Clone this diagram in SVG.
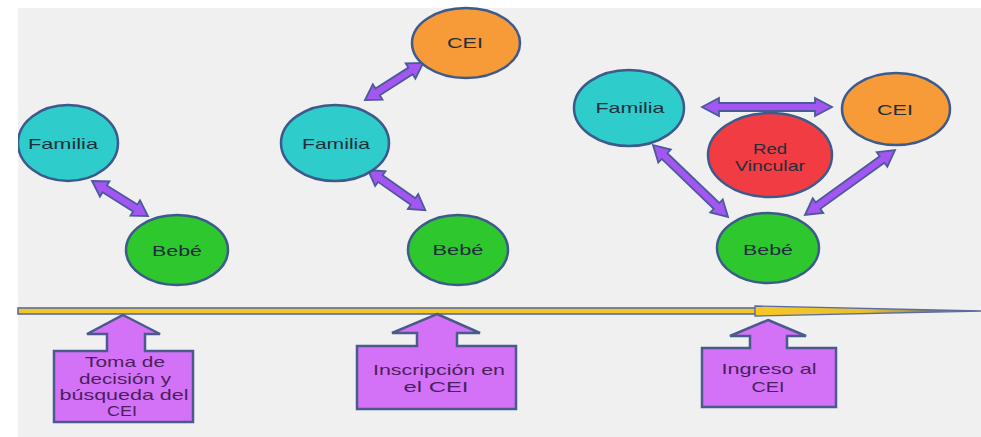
<svg xmlns="http://www.w3.org/2000/svg" width="981" height="437" viewBox="0 0 981 437">
<defs>
<style>
.nd{stroke:#3d5a8c;stroke-width:2.5}
.fam{fill:#2fcccc}
.beb{fill:#2ec82e}
.cei{fill:#f79a38}
.red{fill:#f23c44}
.t{font-family:"Liberation Sans",Arial,sans-serif;font-size:15px;fill:#1e2f3a;text-anchor:middle}
.ct{font-family:"Liberation Sans",Arial,sans-serif;font-size:15px;fill:#4a1f5e;text-anchor:middle}
.arr{fill:#a456f2;stroke:#4a5a9a;stroke-width:1.8;stroke-linejoin:miter}
.call{fill:#d472f7;stroke:#4a5a8c;stroke-width:2.5}
</style>
<clipPath id="area"><rect x="18" y="8" width="963" height="429"/></clipPath>
<linearGradient id="tip" x1="0" y1="0" x2="1" y2="0">
<stop offset="0" stop-color="#f7c625"/>
<stop offset="0.5" stop-color="#e8c030"/>
<stop offset="1" stop-color="#3d5a8c"/>
</linearGradient>
</defs>
<rect x="0" y="0" width="981" height="437" fill="#ffffff"/>
<rect x="18" y="8" width="963" height="429" fill="#f0f0f0"/>

<g id="timeline">
<rect x="18" y="308" width="738" height="6" fill="#f2c52a" stroke="#5a6c9c" stroke-width="1.6"/>
<polygon points="755,306 981,311 755,316" fill="url(#tip)" stroke="#5a6c9c" stroke-width="1.4"/>
</g>

<g id="connectors">
<polygon class="arr" transform="translate(92,181) rotate(32)" points="0,0 15,-9 15,-4 51,-4 51,-9 66,0 51,9 51,4 15,4 15,9"/>
<polygon class="arr" transform="translate(365,100) rotate(-32.5)" points="0,0 15,-9 15,-4 54,-4 54,-9 69,0 54,9 54,4 15,4 15,9"/>
<polygon class="arr" transform="translate(368,170) rotate(35)" points="0,0 15,-9 15,-4 55,-4 55,-9 70,0 55,9 55,4 15,4 15,9"/>
<polygon class="arr" transform="translate(702,107)" points="0,0 17,-9 17,-4 113,-4 113,-9 130,0 113,9 113,4 17,4 17,9"/>
<polygon class="arr" transform="translate(653,145) rotate(43.8)" points="0,0 16,-9 16,-4 88,-4 88,-9 104,0 88,9 88,4 16,4 16,9"/>
<polygon class="arr" transform="translate(805,215) rotate(-35.8)" points="0,0 16,-9 16,-4 95,-4 95,-9 111,0 95,9 95,4 16,4 16,9"/>
</g>

<g id="familia1" clip-path="url(#area)">
<ellipse class="nd fam" cx="68" cy="143" rx="50" ry="38"/>
<text class="t" x="63" y="149" textLength="70" lengthAdjust="spacingAndGlyphs">Familia</text>
</g>
<g id="bebe1">
<ellipse class="nd beb" cx="177" cy="250" rx="51" ry="35"/>
<text class="t" x="177" y="256" textLength="50" lengthAdjust="spacingAndGlyphs">Bebé</text>
</g>

<g id="cei2">
<ellipse class="nd cei" cx="466" cy="43" rx="54" ry="35"/>
<text class="t" x="465" y="48" textLength="36" lengthAdjust="spacingAndGlyphs">CEI</text>
</g>
<g id="familia2">
<ellipse class="nd fam" cx="335" cy="143" rx="54" ry="38"/>
<text class="t" x="336" y="149" textLength="68" lengthAdjust="spacingAndGlyphs">Familia</text>
</g>
<g id="bebe2">
<ellipse class="nd beb" cx="458" cy="250" rx="50" ry="35"/>
<text class="t" x="458" y="255" textLength="51" lengthAdjust="spacingAndGlyphs">Bebé</text>
</g>

<g id="familia3">
<ellipse class="nd fam" cx="629" cy="108" rx="55" ry="38"/>
<text class="t" x="630" y="113" textLength="69" lengthAdjust="spacingAndGlyphs">Familia</text>
</g>
<g id="cei3">
<ellipse class="nd cei" cx="896" cy="109" rx="54" ry="36"/>
<text class="t" x="895" y="115" textLength="36" lengthAdjust="spacingAndGlyphs">CEI</text>
</g>
<g id="redvincular">
<ellipse class="nd red" cx="770" cy="155" rx="62" ry="42"/>
<text class="t" x="770" y="154" textLength="34" lengthAdjust="spacingAndGlyphs">Red</text>
<text class="t" x="770" y="171" textLength="70" lengthAdjust="spacingAndGlyphs">Vincular</text>
</g>
<g id="bebe3">
<ellipse class="nd beb" cx="768" cy="248" rx="51" ry="35"/>
<text class="t" x="768" y="255" textLength="50" lengthAdjust="spacingAndGlyphs">Bebé</text>
</g>

<g id="hito1">
<polygon class="call" points="123,315 160,334 145,334 145,351 193,351 193,422 54,422 54,351 107,351 107,334 87,334"/>
<text class="ct" x="125" y="367" textLength="80" lengthAdjust="spacingAndGlyphs">Toma de</text>
<text class="ct" x="125" y="384" textLength="92" lengthAdjust="spacingAndGlyphs">decisión y</text>
<text class="ct" x="124" y="400" textLength="129" lengthAdjust="spacingAndGlyphs">búsqueda del</text>
<text class="ct" x="122" y="416" textLength="30" lengthAdjust="spacingAndGlyphs">CEI</text>
</g>
<g id="hito2">
<polygon class="call" points="437,314 480,333 457,333 457,346 516,346 516,409 357,409 357,346 417,346 417,333 392,333"/>
<text class="ct" x="439" y="375" textLength="132" lengthAdjust="spacingAndGlyphs">Inscripción en</text>
<text class="ct" x="436" y="392" textLength="65" lengthAdjust="spacingAndGlyphs">el CEI</text>
</g>
<g id="hito3">
<polygon class="call" points="768,320 806,336 787,336 787,348 836,348 836,407 702,407 702,348 750,348 750,336 730,336"/>
<text class="ct" x="769" y="374" textLength="95" lengthAdjust="spacingAndGlyphs">Ingreso al</text>
<text class="ct" x="768" y="392" textLength="33" lengthAdjust="spacingAndGlyphs">CEI</text>
</g>
</svg>
